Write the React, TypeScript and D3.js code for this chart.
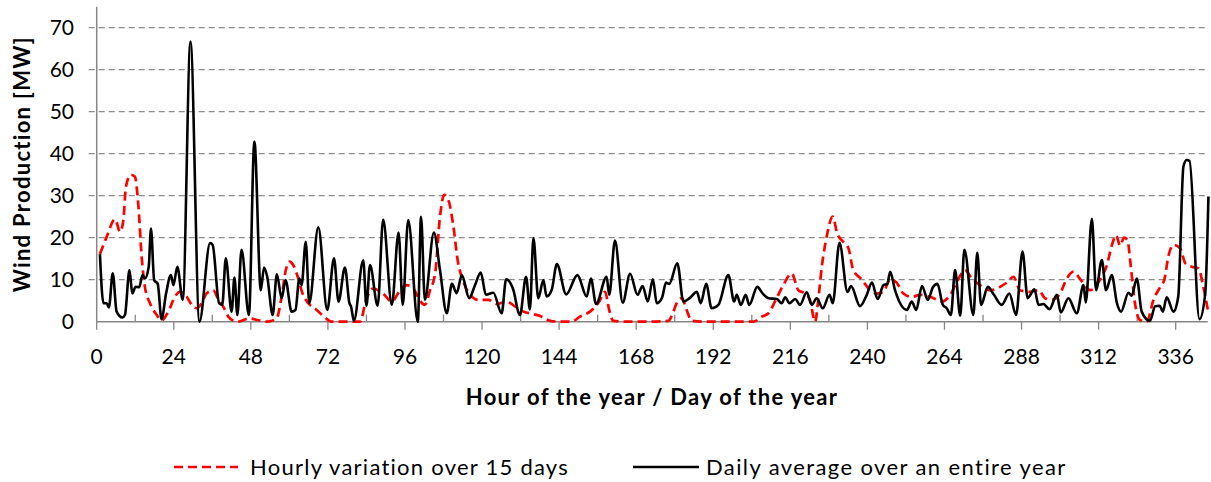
import React from 'react'
import * as d3 from 'd3'

// hourly series (15 days) at turning points
const redHours = [1, 3.1, 5.7, 7.3, 8.3, 9.1, 10.6, 11.9, 13, 14, 15, 16.6, 18.7, 20.2, 22.3, 24.4, 25.9, 28, 29.6, 31.1, 32.7, 34.2, 36.3, 37.9, 39.4, 41, 42.6, 44, 47.5, 50, 53, 56, 57.6, 58.9, 60, 61.2, 62.6, 64.1, 65.9, 68.5, 71.1, 73.2, 78.9, 82, 83.9, 86.1, 89.3, 91.9, 94.5, 96.5, 98.6, 100.5, 102.2, 103.8, 105.4, 106.9, 108.2, 109.5, 111.1, 112.4, 114.2, 116.3, 118.8, 122, 124.6, 127.7, 130.3, 132.9, 136, 138.6, 141.2, 144.3, 147.9, 150.5, 153.6, 156.5, 158.3, 159.6, 160.9, 165.1, 171.9, 178, 179.6, 180.6, 182.2, 183.7, 185.3, 190, 204.5, 207.1, 209.2, 211.2, 213.8, 216.4, 218.5, 220.6, 222.1, 223.7, 224.7, 225.8, 227.3, 229.2, 230.6, 232.5, 234.1, 235.6, 238.2, 240.8, 242.9, 245, 247.1, 249.1, 251.2, 253.8, 256.4, 260.6, 263.2, 265.8, 268.3, 270.4, 272.5, 275.1, 278.2, 281.3, 283.4, 285.5, 287.5, 290.6, 293.3, 295.3, 297.4, 300, 302.1, 304.2, 306.3, 309.4, 312.5, 314.5, 316.1, 317.4, 318.7, 319.9, 321, 322, 323.4, 324.9, 327, 329.1, 331.2, 332.5, 333.7, 335.3, 337.4, 339, 341, 343.1, 344.6, 346.2]
const redValues = [16.1, 20.2, 24.4, 21.4, 24.2, 32.1, 35, 34.5, 27.4, 15.5, 8.3, 4.4, 1.6, 0.3, 2.4, 6, 7.1, 6, 4, 3.2, 4.4, 6.7, 7.5, 5.2, 3.6, 1.2, 0.2, 0, 0.8, 0.4, 0, 0.8, 6, 12.3, 14.3, 13.5, 10.7, 6.7, 4.4, 2.8, 1, 0, 0, 0, 5.2, 7.9, 6.6, 4.8, 7.5, 8.7, 7.9, 5.2, 4, 7.5, 11.5, 25, 30.2, 29, 22.6, 14.7, 9.5, 6.4, 5.2, 5.2, 4.2, 4.8, 3.6, 2.4, 1.8, 1.2, 0.2, 0, 0, 1.2, 2.4, 4.8, 7.1, 2.8, 0.2, 0, 0, 0.2, 2.4, 4.4, 5.6, 2.8, 0.2, 0, 0, 1.2, 2, 4.8, 8.7, 11.5, 7.5, 6.7, 5.2, 0, 5.2, 13.1, 20.2, 25, 21, 19, 17.5, 12.3, 10.1, 7.5, 6.7, 7.1, 10.1, 9.3, 6.7, 5.9, 6.4, 5.6, 4.8, 6.4, 10.1, 12.3, 10.3, 8.7, 7.5, 8.3, 9.3, 10.7, 7.5, 7.1, 7.5, 5.6, 5.2, 6.7, 10.3, 11.9, 10.1, 7.5, 10.1, 13.3, 18.1, 20.6, 18.1, 20, 19.4, 13.3, 4, 0.4, 0, 5.2, 8.3, 10.1, 15.5, 18.3, 17.5, 13.9, 13.1, 12.7, 8.3, 2]

// daily average series (whole year), turning points
const blackHours = [1, 2.1, 3.1, 3.8, 5, 6.2, 8, 8.8, 10.2, 11.1, 12.1, 13.2, 14.3, 15, 16.2, 16.9, 17.9, 19, 20.2, 21.6, 23.1, 23.9, 25.1, 26.8, 29.2, 32, 35.3, 36.1, 38.1, 39.1, 40.2, 42, 42.9, 43.8, 45.1, 47.4, 49.1, 51.1, 52.1, 53.1, 54.8, 56.1, 57.6, 58.8, 60.7, 61.9, 63.1, 63.8, 65.1, 66.2, 69, 71.8, 73.9, 75.3, 77.3, 78.7, 79.2, 80.1, 83, 84, 85.1, 87.5, 89.2, 91.9, 94, 95.3, 97, 100, 101, 102.2, 105, 106.9, 109, 110.6, 112.1, 113.7, 116, 117.8, 119.6, 121.2, 123.5, 126.1, 127.5, 129.6, 131.8, 133.7, 134.9, 136, 137.5, 139.1, 140.1, 141.7, 143.3, 146.2, 149.7, 152.6, 153.9, 155.5, 158.8, 159.6, 161.4, 163.8, 166.1, 168.4, 170, 171.6, 173.2, 174.4, 176, 177.3, 178.3, 180.8, 182.7, 184.6, 186.9, 188.1, 189.8, 191.5, 193.6, 196.7, 198.5, 199.3, 200.6, 202.1, 203.2, 205.7, 207.4, 209.2, 211.8, 213.3, 214.4, 215.7, 217.5, 219, 221.1, 222.7, 224.2, 226.1, 228.2, 229.2, 231.3, 233.8, 234.9, 237.7, 239.8, 241.4, 243.2, 245, 246.2, 247.1, 248.6, 252.3, 253.8, 255.2, 257, 258.8, 260.4, 261.8, 263.5, 264.7, 266, 267.3, 268.9, 270.2, 273, 274.2, 275.4, 277.5, 279.4, 281.8, 284.2, 286.3, 288.3, 289.9, 292, 293.3, 294.8, 296.7, 299, 300.2, 302.6, 305.2, 307.3, 308, 309.9, 311.2, 313, 314.3, 316.1, 317.7, 319, 321.3, 322.3, 323.9, 325.4, 328, 329.6, 331, 332, 333.2, 335.3, 336.8, 338.4, 339.4, 340.3, 343.4, 345.2, 346.2]
const blackValues = [16.1, 4.4, 4.4, 3.4, 11.5, 2.4, 1, 1.6, 12.3, 6.7, 8.3, 8.2, 11.1, 10.3, 13.1, 22.2, 9.9, 9, 0.6, 6.7, 11.1, 8.7, 13.1, 5.2, 66.7, 0, 18.7, 18.3, 4.4, 4, 15.1, 2.4, 10.5, 1.6, 17.1, 1.6, 42.9, 7.5, 12.9, 10.7, 1.6, 11.3, 5.6, 9.9, 2.4, 2.8, 10.3, 8.7, 19, 4.4, 22.5, 2.8, 15.1, 4.8, 12.9, 4.4, 3.6, 0.2, 14.6, 3.8, 13.5, 3.8, 24.3, 4, 21.2, 4, 24.2, 0, 25, 5.2, 21.2, 12.3, 2, 9, 6.8, 11.1, 5.6, 8.7, 11.7, 6.4, 6.9, 2, 10.1, 7.9, 1.6, 10.7, 2.9, 19.9, 5.6, 9.9, 6, 7.6, 13.7, 6.5, 11.1, 6, 10.3, 4.2, 10.7, 6.4, 19.3, 4.5, 11.4, 6.4, 8.5, 4.8, 10.1, 4.4, 5.6, 9.3, 9, 13.9, 4.8, 5.6, 7.1, 4.4, 9, 3.2, 4, 11.1, 4.8, 6.4, 4, 6.4, 4, 8.3, 6.7, 5.6, 5.4, 4.4, 5.8, 4.4, 5.4, 4, 7, 4, 5.6, 3.2, 6.4, 4.4, 18.8, 7.1, 8.5, 3.7, 6.4, 9.3, 5.4, 8.7, 9, 11.9, 7.5, 2.8, 4.8, 2.8, 8.5, 5.2, 8.2, 9, 4, 3.2, 1.6, 12.3, 1.4, 17.1, 1.6, 16.4, 4, 8.3, 6.4, 4, 6.7, 1.6, 16.7, 5.6, 7.7, 4, 4.2, 3, 6.4, 2.2, 5.6, 2, 8.7, 4.6, 24.5, 7.5, 14.7, 7.5, 11.1, 4.4, 2.4, 6.9, 6.2, 10.3, 2.4, 0.2, 3.7, 3.8, 2.4, 5.8, 2.4, 6, 36.9, 38.5, 38.3, 0.6, 6.7, 29.8]

const xTicks = [0, 24, 48, 72, 96, 120, 144, 168, 192, 216, 240, 264, 288, 312, 336]
const xMinorTicks = [12, 36, 60, 84, 108, 132, 156, 180, 204, 228, 252, 276, 300, 324]
const yTicks = [0, 10, 20, 30, 40, 50, 60, 70]

const seriesNames = ['Hourly variation over 15 days', 'Daily average over an entire year']

const W = 1211
const H = 482
const FONT = "Lato, 'Open Sans', sans-serif"
const AXIS = '#868686'

export default function App() {
  const x = d3.scaleLinear().domain([0, 346]).range([96.7, 1207.8])
  const y = d3.scaleLinear().domain([0, 75]).range([321.7, 6.7])

  const line = d3
    .line<[number, number]>()
    .x(d => x(d[0]))
    .y(d => y(d[1]))
    .curve(d3.curveMonotoneX)

  const red = redHours.map((h, i) => [h, redValues[i]] as [number, number])
  const black = blackHours.map((h, i) => [h, blackValues[i]] as [number, number])

  const x0 = x.range()[0],
    x1 = x.range()[1]

  return (
    <svg width={W} height={H} style={{ position: 'absolute', left: 0, top: 0, background: '#fff' }}>
      {/* gridlines */}
      {yTicks.slice(1).map(t => (
        <line key={'g' + t} x1={x0 - 8} x2={x1} y1={y(t)} y2={y(t)} stroke="#8c8c8c" strokeWidth={1.3} strokeDasharray="6,4" />
      ))}
      {/* y axis */}
      <line x1={x0} x2={x0} y1={y(75)} y2={y(0)} stroke={AXIS} strokeWidth={1.5} />
      {yTicks.map(t => (
        <text key={'yl' + t} x={74} y={y(t)} dy="0.35em" textAnchor="end" fontFamily={FONT} fontSize={21} fill="#000">
          {t}
        </text>
      ))}
      {/* x axis */}
      <line x1={x0} x2={x1} y1={y(0)} y2={y(0)} stroke={AXIS} strokeWidth={1.5} />
      {xTicks.map(t => (
        <g key={'xt' + t}>
          <line x1={x(t)} x2={x(t)} y1={y(0)} y2={y(0) + 8} stroke={AXIS} strokeWidth={1.3} />
          <text x={x(t)} y={357} dy="0.35em" textAnchor="middle" fontFamily={FONT} fontSize={21} fill="#000">
            {t}
          </text>
        </g>
      ))}
      {xMinorTicks.map(t => (
        <line key={'xm' + t} x1={x(t)} x2={x(t)} y1={y(0)} y2={y(0) - 7} stroke={AXIS} strokeWidth={1.3} />
      ))}

      {/* series */}
      <path d={line(red) || ''} fill="none" stroke="#ff0000" strokeWidth={2.7} strokeDasharray="9,5" />
      <path d={line(black) || ''} fill="none" stroke="#000" strokeWidth={2.6} strokeLinejoin="round" />

      {/* axis titles */}
      <text x={652} y={397} dy="0.35em" textAnchor="middle" fontFamily={FONT} fontSize={22} fontWeight="bold" letterSpacing={1.3}>
        Hour of the year / Day of the year
      </text>
      <text transform={`translate(22,${y(37.5)}) rotate(-90)`} textAnchor="middle" dy="0.35em" fontFamily={FONT} fontSize={22} fontWeight="bold" letterSpacing={1.3}>
        Wind Production [MW]
      </text>

      {/* legend */}
      <line x1={174} x2={238} y1={467} y2={467} stroke="#ff0000" strokeWidth={2.7} strokeDasharray="9,5" />
      <text x={250} y={467} dy="0.35em" fontFamily={FONT} fontSize={22} letterSpacing={1.25}>
        {seriesNames[0]}
      </text>
      <line x1={633} x2={699} y1={467} y2={467} stroke="#000" strokeWidth={2.6} />
      <text x={706} y={467} dy="0.35em" fontFamily={FONT} fontSize={22} letterSpacing={1.4}>
        {seriesNames[1]}
      </text>
    </svg>
  )
}
